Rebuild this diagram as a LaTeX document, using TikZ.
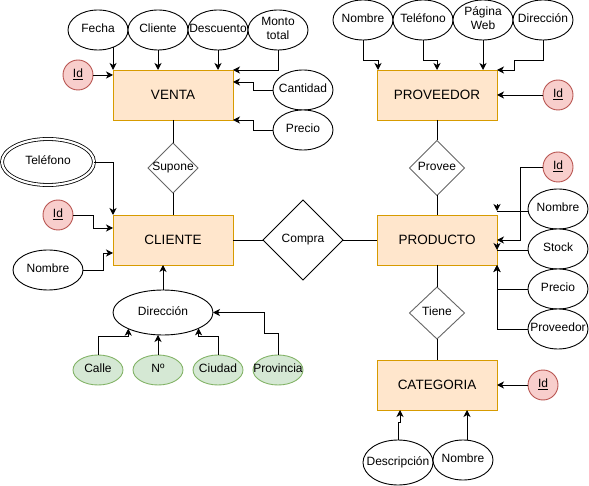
\documentclass[tikz,border=0pt]{standalone}
\usepackage{fontspec}
\setmainfont{Liberation Sans}
\usetikzlibrary{shapes.geometric,arrows.meta,calc}
\definecolor{entfill}{HTML}{FFE6CC}
\definecolor{entline}{HTML}{D79B00}
\definecolor{keyfill}{HTML}{F8CECC}
\definecolor{keyline}{HTML}{B85450}
\definecolor{subfill}{HTML}{D5E8D4}
\definecolor{subline}{HTML}{82B366}
\definecolor{relline}{HTML}{666666}
\newcommand{\tx}[1]{\makebox[0pt]{\begin{tabular}{@{}c@{}}#1\end{tabular}}}
\begin{document}
\begin{tikzpicture}[x=1pt,y=-1pt,
  every node/.style={inner sep=0pt, outer sep=0pt, line width=0.9pt},
  ent/.style={rectangle, draw=entline, fill=entfill, minimum width=120pt, minimum height=50pt, font=\fontsize{13.5}{15}\selectfont},
  attr/.style={ellipse, draw, fill=white, minimum width=60pt, minimum height=40pt, font=\fontsize{12}{13.5}\selectfont},
  keyattr/.style={circle, draw=keyline, fill=keyfill, minimum size=30pt, font=\fontsize{12}{13.5}\selectfont},
  subattr/.style={ellipse, draw=subline, fill=subfill, minimum width=50pt, minimum height=30pt, font=\fontsize{12}{13.5}\selectfont},
  rel/.style={diamond, aspect=1, draw=relline, fill=white, font=\fontsize{12}{13.5}\selectfont},
  arr/.style={-{Stealth[length=7pt,width=7pt,inset=2pt]}, line width=0.9pt},
  con/.style={line width=0.9pt}]
\useasboundingbox (0,0) rectangle (589,486);

% ---------- VENTA ----------
\node[ent] (venta) at (173,95) {VENTA};
\node[attr] (fecha) at (98,30) {\tx{Fecha}};
\node[attr] (clie) at (158,30) {\tx{Cliente}};
\node[attr] (descu) at (218,30) {\tx{Descuento}};
\node[attr] (monto) at (278,30) {\tx{Monto\\total}};
\node[keyattr] (idv) at (78,75) {\tx{\underline{Id}}};
\node[attr] (cant) at (303,90) {\tx{Cantidad}};
\node[attr] (precv) at (303,130) {\tx{Precio}};

\draw[arr] (fecha.311) -- (fecha.311 |- venta.north);
\draw[arr] (clie.south) -- (clie.south |- venta.north);
\draw[arr] (descu.south) -- (descu.south |- venta.north);
\draw[arr] (monto.south) |- (venta.north east);
\draw[arr] (idv.east) -- (idv.east -| venta.west);
\draw[arr] (cant.west) -- ++(-20,0) |- ([yshift=-12pt]venta.north east);
\draw[arr] (precv.west) -- ++(-20,0) |- (venta.south east);

% ---------- CLIENTE ----------
\node[rel, minimum width=50pt, minimum height=50pt] (supone) at (173,168) {\tx{Supone}};
\node[ent] (cliente) at (173,240) {CLIENTE};
\node[attr, double, double distance=2.2pt, line width=0.8pt, minimum width=92pt, minimum height=46pt] (tel) at (48,162) {\tx{Teléfono}};
\node[keyattr] (idc) at (58,215) {\tx{\underline{Id}}};
\node[attr, minimum width=70pt] (nomc) at (48,270) {\tx{Nombre}};
\node[attr, minimum width=100pt, minimum height=45pt] (dir) at (163,312.5) {\tx{Dirección}};
\node[subattr] (calle) at (98,370) {\tx{Calle}};
\node[subattr] (num) at (158,370) {\tx{Nº}};
\node[subattr] (ciu) at (218,370) {\tx{Ciudad}};
\node[subattr] (provi) at (278,370) {\tx{Provincia}};

\draw[con] (venta.south) -- (supone.north);
\draw[con] (supone.south) -- (cliente.north);
\draw[arr] (tel.east) -| (cliente.north west);
\draw[arr] (idc.east) -- ++(20,0) |- ([yshift=-13pt]cliente.north west);
\draw[arr] (nomc.east) -- ++(20,0) |- ([yshift=-38pt]cliente.north west);
\draw[arr] (dir.north) -- (dir.north |- cliente.south);
\draw[arr] (calle.north) -- ++(0,-19) -| (dir.205);
\draw[arr] (num.north) -- (num.north |- dir.south);
\draw[arr] (ciu.north) -- ++(0,-19) -| (dir.336);
\draw[arr] (provi.north) -- ++(0,-22) -- ++(-14,0) |- (dir.east);

% ---------- COMPRA ----------
\node[rel, draw=black, minimum width=80pt, minimum height=80pt] (compra) at (303,240) {\tx{Compra}};

% ---------- PROVEEDOR ----------
\node[ent] (proveedor) at (437,95) {PROVEEDOR};
\node[attr] (nomp) at (363,20) {\tx{Nombre}};
\node[attr] (telp) at (423,20) {\tx{Teléfono}};
\node[attr] (pag) at (483,20) {\tx{Página\\Web}};
\node[attr] (dirp) at (543,20) {\tx{Dirección}};
\node[keyattr] (idp) at (558,95) {\tx{\underline{Id}}};

\draw[arr] (nomp.south) -- ++(0,20) -| ([xshift=1pt]proveedor.north west);
\draw[arr] (telp.south) -- ++(0,20) -| (proveedor.north);
\draw[arr] (pag.south) -- (pag.south |- proveedor.north);
\draw[arr] (dirp.south) -- ++(0,20) -- ++(-29,0) |- (proveedor.north east);
\draw[arr] (idp.west) -- (proveedor.east);

% ---------- PRODUCTO ----------
\node[rel, minimum width=55pt, minimum height=55pt] (provee) at (437,168) {\tx{Provee}};
\node[ent] (producto) at (437,240) {PRODUCTO};
\node[keyattr] (idpr) at (558,167) {\tx{\underline{Id}}};
\node[attr] (nompr) at (558,209) {\tx{Nombre}};
\node[attr] (stock) at (558,249) {\tx{Stock}};
\node[attr] (prpr) at (558,289) {\tx{Precio}};
\node[attr] (provpr) at (558,329) {\tx{Proveedor}};

\draw[con] (proveedor.south) -- (provee.north);
\draw[con] (provee.south) -- (producto.north);
\draw[con] (compra.west) -- (cliente.east);
\draw[con] (compra.east) -- (producto.west);
\draw[arr] (idpr.west) -- ++(-23,0) |- (producto.east);
\draw[con] ([yshift=-2pt]nompr.west) -- ([yshift=-2pt]nompr.west -| producto.east) coordinate (nA);
\draw[arr] ([yshift=7pt]nA) -- (nA);
\draw[con] ([yshift=-1pt]stock.west) -- ([yshift=-1pt]stock.west -| producto.east) coordinate (sA);
\draw[arr] ([yshift=7pt]sA) -- (sA);
\draw[arr] (prpr.west) -| (producto.south east);
\draw[arr] (provpr.west) -| (producto.south east);

% ---------- CATEGORIA ----------
\node[rel, minimum width=55pt, minimum height=52pt] (tiene) at (437,313) {\tx{Tiene}};
\node[ent] (categoria) at (437,385) {CATEGORIA};
\node[keyattr] (idca) at (543,385) {\tx{\underline{Id}}};
\node[attr, minimum width=70pt, minimum height=45pt] (descr) at (398,462.5) {\tx{Descripción}};
\node[attr] (nomca) at (463,460) {\tx{Nombre}};

\draw[con] (producto.south) -- (tiene.north);
\draw[con] (tiene.south) -- (categoria.north);
\draw[arr] (idca.west) -- (categoria.east);
\draw[arr] (descr.north) -- ++(0,-18) -| ([xshift=23pt]categoria.south west);
\draw[arr] ([xshift=4pt]nomca.north) -- ([xshift=4pt]nomca.north |- categoria.south);
\end{tikzpicture}
\end{document}
